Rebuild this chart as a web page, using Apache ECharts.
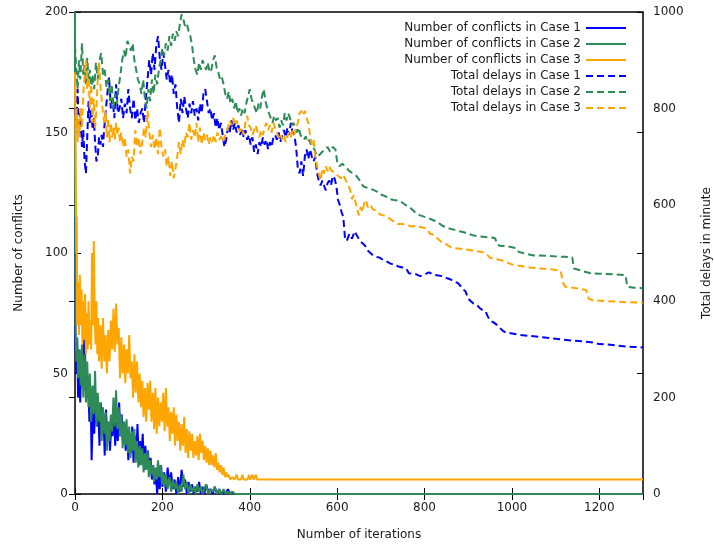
<!DOCTYPE html>
<html>
<head>
<meta charset="utf-8">
<script src="https://cdn.jsdelivr.net/npm/echarts@6/dist/echarts.min.js"></script>
<style>
  html, body { margin: 0; padding: 0; background: #fff; }
  #chart { width: 714px; height: 545px; }
</style>
</head>
<body>
<div id="chart"></div>
<script>
// [iteration, number of conflicts]
const conflictsCase1 = [[0,115],[1,62],[3,50],[5,64],[7,40],[9,52],[12,38],[15,60],[18,45],[21,78],[24,50],[27,40],[30,47],[33,30],[36,38],[38,14],[41,35],[44,25],[47,42],[50,28],[53,37],[56,20],[59,38],[62,25],[65,33],[68,16],[71,35],[74,22],[77,30],[80,18],[83,28],[86,24],[89,36],[92,20],[95,30],[98,22],[101,38],[104,24],[107,33],[110,21],[113,30],[116,18],[119,27],[122,14],[125,25],[128,17],[131,28],[134,13],[137,24],[140,15],[143,29],[146,12],[149,22],[152,16],[155,25],[158,10],[161,20],[164,12],[167,18],[170,8],[173,15],[176,6],[179,12],[182,4],[185,10],[188,0],[191,8],[194,2],[197,12],[200,3],[204,9],[208,1],[212,11],[216,4],[220,9],[224,2],[228,6],[232,0],[236,7],[240,1],[244,10],[248,3],[252,6],[256,0],[260,5],[264,1],[268,4],[272,0],[276,3],[280,1],[284,5],[288,0],[292,3],[296,0],[300,4],[305,1],[310,2],[315,0],[320,3],[325,0],[330,2],[335,0],[340,1],[345,0],[350,2],[355,0],[360,1],[365,0],[1300,0]];
const conflictsCase2 = [[0,200],[1,70],[3,55],[5,65],[7,48],[10,60],[13,45],[16,62],[19,40],[22,58],[25,38],[28,55],[31,36],[34,50],[37,30],[40,45],[43,33],[46,51],[49,28],[52,42],[55,30],[58,38],[61,22],[64,36],[67,25],[70,34],[73,18],[76,30],[79,22],[82,33],[85,26],[88,40],[91,28],[94,43],[97,27],[100,36],[103,24],[106,33],[109,19],[112,30],[115,20],[118,31],[121,17],[124,28],[127,15],[130,26],[133,18],[136,27],[139,13],[142,22],[145,11],[148,20],[151,12],[154,19],[157,9],[160,17],[163,10],[166,18],[169,7],[172,14],[175,8],[178,12],[181,5],[184,11],[187,6],[190,14],[193,7],[196,12],[199,4],[202,9],[205,3],[208,8],[212,2],[216,7],[220,1],[224,6],[228,2],[232,5],[236,0],[240,4],[244,1],[248,8],[252,2],[256,5],[260,0],[264,4],[268,1],[272,3],[276,0],[280,4],[284,1],[288,3],[292,0],[296,2],[300,4],[305,0],[310,2],[315,1],[320,3],[325,0],[330,2],[335,0],[340,2],[345,0],[350,1],[355,0],[360,1],[365,0],[1300,0]];
const conflictsCase3 = [[0,175],[1,150],[2,125],[3,100],[4,115],[5,70],[7,88],[9,66],[11,91],[13,70],[15,85],[17,62],[19,80],[21,64],[23,83],[25,58],[27,75],[29,60],[31,80],[33,62],[35,72],[37,60],[39,100],[41,70],[43,105],[45,75],[47,62],[49,80],[51,58],[53,73],[55,55],[58,70],[61,52],[64,73],[67,55],[70,66],[73,50],[76,68],[79,55],[82,72],[85,60],[88,77],[91,59],[94,79],[97,62],[100,69],[103,48],[106,65],[109,50],[112,62],[115,46],[118,60],[121,50],[124,66],[127,48],[130,55],[133,40],[136,58],[139,42],[142,55],[145,38],[148,50],[151,36],[154,47],[157,32],[160,44],[163,30],[166,46],[169,35],[172,47],[175,30],[178,42],[181,27],[184,44],[187,25],[190,40],[193,28],[196,38],[199,30],[202,42],[205,26],[208,44],[211,28],[214,36],[217,22],[220,34],[223,25],[226,36],[229,20],[232,33],[235,22],[238,30],[241,18],[244,29],[247,20],[250,32],[253,17],[256,27],[259,15],[262,26],[265,18],[268,25],[271,15],[274,22],[277,16],[280,24],[283,14],[286,25],[289,17],[292,22],[295,14],[298,20],[301,13],[304,19],[307,12],[310,18],[313,12],[316,16],[319,11],[322,17],[325,10],[328,13],[331,9],[334,12],[337,8],[340,11],[343,7],[346,9],[349,7],[352,8],[355,6],[360,7],[365,6],[370,8],[373,6],[380,6],[383,8],[386,6],[395,6],[398,8],[401,6],[406,8],[409,6],[414,8],[417,6],[1300,6]];

// [iteration, total delays in minutes]
const delaysCase1 = [[0,800],[3,760],[6,840],[9,745],[12,790],[16,720],[19,755],[22,690],[25,665],[28,740],[31,815],[34,770],[37,800],[40,760],[43,780],[46,730],[49,690],[52,700],[55,740],[58,725],[61,745],[64,720],[67,760],[70,790],[74,830],[78,865],[82,800],[86,820],[90,780],[94,850],[98,790],[102,800],[106,820],[110,780],[114,810],[118,790],[122,840],[126,800],[130,780],[134,820],[138,775],[142,800],[146,770],[150,790],[154,800],[158,770],[162,820],[166,860],[170,900],[174,870],[178,915],[182,880],[186,930],[190,950],[194,905],[198,880],[202,915],[206,890],[210,860],[214,880],[218,850],[222,870],[226,830],[230,850],[234,800],[238,770],[242,820],[246,790],[250,825],[254,800],[258,780],[262,810],[266,790],[270,815],[274,785],[278,800],[282,775],[286,810],[290,790],[294,830],[298,840],[302,815],[306,790],[310,800],[314,775],[318,790],[322,760],[326,780],[330,755],[334,770],[338,745],[342,720],[346,735],[350,760],[354,750],[358,775],[362,755],[366,770],[370,750],[374,765],[378,745],[382,760],[386,740],[390,755],[394,735],[398,745],[402,725],[406,740],[410,710],[414,725],[418,705],[422,730],[426,720],[430,740],[434,725],[438,735],[442,715],[446,730],[450,720],[454,740],[458,745],[462,735],[466,750],[470,730],[474,745],[478,755],[482,740],[486,760],[490,745],[494,770],[498,750],[502,745],[506,720],[510,675],[514,665],[518,690],[522,660],[526,700],[530,715],[534,695],[538,715],[542,700],[546,690],[550,700],[554,665],[558,650],[562,640],[566,650],[570,640],[574,630],[578,645],[582,650],[586,640],[590,660],[594,655],[598,640],[602,610],[606,600],[610,585],[614,575],[618,530],[622,525],[628,540],[634,530],[640,545],[646,535],[652,525],[658,520],[664,515],[670,505],[676,500],[682,495],[690,492],[698,490],[706,485],[714,482],[722,478],[730,476],[740,472],[750,470],[758,468],[764,458],[780,456],[790,452],[800,455],[810,460],[820,455],[840,452],[850,448],[860,445],[868,440],[876,438],[882,432],[888,425],[894,420],[900,405],[906,400],[912,395],[920,392],[926,386],[932,382],[940,378],[945,368],[950,360],[958,356],[964,352],[972,345],[980,338],[986,335],[1000,333],[1020,330],[1040,328],[1060,326],[1080,324],[1100,322],[1120,320],[1140,318],[1160,317],[1180,315],[1192,313],[1200,311],[1220,310],[1240,308],[1260,306],[1280,305],[1300,304]];
const delaysCase2 = [[0,930],[3,880],[6,840],[9,900],[12,860],[16,935],[19,870],[22,890],[25,850],[28,905],[31,860],[34,880],[37,835],[40,870],[44,840],[48,895],[52,860],[56,900],[60,915],[64,870],[68,880],[72,845],[76,860],[80,815],[84,850],[88,800],[92,830],[96,810],[100,845],[104,870],[108,900],[112,920],[116,905],[120,940],[124,930],[128,920],[132,935],[136,900],[140,880],[144,860],[148,850],[152,830],[156,860],[160,820],[164,800],[168,840],[172,815],[176,860],[180,830],[184,870],[188,850],[192,880],[196,900],[200,925],[204,910],[208,935],[212,920],[216,950],[220,930],[224,955],[228,940],[232,960],[236,950],[240,975],[244,995],[248,985],[252,970],[256,975],[260,960],[264,950],[268,930],[272,900],[276,880],[280,870],[284,895],[288,880],[292,900],[296,890],[300,880],[304,895],[308,875],[312,880],[316,900],[320,910],[324,885],[328,875],[332,860],[336,865],[340,850],[344,830],[348,820],[352,835],[356,810],[360,820],[364,800],[368,815],[372,790],[376,800],[380,785],[384,800],[388,790],[392,810],[396,825],[400,840],[404,820],[408,810],[412,800],[416,790],[420,810],[424,800],[428,825],[432,840],[436,815],[440,800],[444,790],[448,780],[452,770],[456,785],[460,775],[464,780],[468,760],[472,775],[476,765],[480,790],[484,775],[488,790],[492,780],[496,765],[500,770],[504,760],[508,750],[512,760],[516,745],[520,740],[524,735],[528,742],[532,730],[536,735],[540,725],[544,720],[548,715],[552,705],[556,700],[560,700],[566,710],[572,715],[578,720],[584,710],[590,720],[596,715],[600,690],[605,680],[612,685],[620,678],[628,670],[636,665],[644,660],[652,650],[660,638],[670,635],[680,632],[690,628],[698,622],[710,618],[720,612],[730,610],[744,608],[756,600],[766,595],[780,583],[790,578],[800,575],[810,572],[820,568],[830,564],[840,557],[850,553],[860,550],[870,548],[880,545],[890,543],[900,540],[910,537],[920,535],[940,533],[955,532],[962,530],[966,518],[972,515],[990,514],[1010,510],[1016,502],[1030,499],[1050,495],[1080,494],[1100,493],[1120,492],[1138,491],[1142,468],[1160,463],[1180,458],[1200,457],[1230,456],[1260,454],[1264,430],[1280,428],[1300,427]];
const delaysCase3 = [[0,845],[2,760],[4,800],[6,730],[8,780],[10,740],[13,800],[16,760],[19,830],[22,870],[25,900],[28,840],[31,865],[34,800],[37,850],[40,770],[43,820],[46,760],[49,800],[52,860],[55,895],[58,850],[61,820],[64,790],[67,770],[70,795],[73,740],[76,780],[79,730],[82,770],[85,740],[88,760],[91,735],[94,770],[97,745],[100,760],[103,730],[106,750],[110,720],[114,740],[118,700],[122,715],[126,665],[130,700],[134,690],[138,755],[142,720],[146,740],[150,705],[154,730],[158,760],[162,740],[166,795],[170,750],[174,720],[178,745],[182,715],[186,740],[190,705],[194,760],[198,720],[202,700],[206,715],[210,680],[214,700],[218,660],[222,690],[226,655],[230,675],[234,700],[238,730],[242,705],[246,735],[250,720],[254,750],[258,740],[262,770],[266,735],[270,755],[274,740],[278,770],[282,730],[286,760],[290,725],[294,750],[298,735],[302,745],[306,725],[310,740],[314,730],[318,745],[322,730],[326,750],[330,735],[334,742],[338,730],[342,740],[346,750],[350,760],[354,775],[358,765],[362,780],[366,765],[370,775],[374,760],[378,752],[382,760],[386,745],[390,770],[394,785],[398,765],[402,760],[406,745],[410,755],[414,765],[418,750],[422,740],[426,755],[430,745],[434,760],[438,770],[442,755],[446,765],[450,750],[454,770],[458,760],[462,750],[466,740],[470,748],[474,735],[478,745],[482,730],[486,742],[490,750],[494,740],[498,755],[502,745],[506,760],[510,770],[514,790],[518,795],[522,785],[526,795],[530,780],[534,770],[538,745],[542,725],[546,735],[550,700],[554,680],[558,665],[562,650],[566,675],[570,665],[574,680],[578,670],[582,680],[586,672],[590,670],[596,665],[602,660],[608,655],[614,662],[620,650],[626,640],[630,630],[634,612],[638,620],[642,605],[646,590],[650,578],[654,595],[658,585],[662,605],[666,610],[670,595],[676,600],[682,590],[690,588],[698,580],[706,578],[714,575],[722,570],[730,565],[740,560],[750,560],[760,558],[770,555],[780,556],[790,554],[800,552],[806,550],[812,540],[820,538],[830,530],[840,522],[850,518],[860,512],[870,510],[890,508],[910,505],[930,502],[940,500],[950,490],[960,488],[975,485],[990,480],[1000,476],[1020,473],[1040,470],[1060,468],[1080,467],[1100,465],[1112,462],[1116,440],[1122,430],[1140,428],[1160,425],[1170,423],[1176,405],[1185,402],[1220,400],[1260,398],[1300,397]];

const seriesNames = [
  "Number of conflicts in Case 1",
  "Number of conflicts in Case 2",
  "Number of conflicts in Case 3",
  "Total delays in Case 1",
  "Total delays in Case 2",
  "Total delays in Case 3"
];
const colors = ["#0000ff", "#2e8b57", "#ffa500"];

var myChart = echarts.init(document.getElementById("chart"));
var font = "DejaVu Sans";
var textColor = "#1a1a1a";
var plain = function (v) { return String(v); };

function mkSeries(name, data, color, yIdx, dashed) {
  return {
    name: name,
    type: "line",
    data: data,
    yAxisIndex: yIdx,
    showSymbol: false,
    symbol: "none",
    lineStyle: { color: color, width: 2, type: dashed ? [7, 4] : "solid" },
    itemStyle: { color: color },
    z: dashed ? 3 : 2
  };
}

var option = {
  animation: false,
  color: colors,
  grid: {
    left: 75, right: 71, top: 12, bottom: 51,
    outerBoundsMode: "none",
    containLabel: false,
    show: true, borderColor: "#000", borderWidth: 1.5
  },
  legend: {
    orient: "vertical",
    right: 82,
    top: 17,
    align: "right",
    itemGap: 4,
    itemWidth: 40,
    itemHeight: 12,
    itemStyle: { opacity: 0 },
    textStyle: { fontFamily: font, fontSize: 12, color: textColor },
    data: seriesNames
  },
  xAxis: [
    {
      type: "value", min: 0, max: 1300, interval: 200,
      name: "Number of iterations", nameLocation: "middle", nameGap: 35,
      nameTextStyle: { fontFamily: font, fontSize: 12, color: textColor },
      axisLine: { show: false },
      axisTick: { inside: true, length: 6, lineStyle: { color: "#000" } },
      axisLabel: { fontFamily: font, fontSize: 12, color: textColor, margin: 8, showMaxLabel: false, formatter: plain },
      splitLine: { show: false }
    },
    {
      type: "value", min: 0, max: 1300, interval: 200, position: "top",
      axisLine: { show: false },
      axisTick: { inside: true, length: 6, lineStyle: { color: "#000" } },
      axisLabel: { show: false },
      splitLine: { show: false }
    }
  ],
  yAxis: [
    {
      type: "value", min: 0, max: 200, interval: 50,
      name: "Number of conflicts", nameLocation: "middle", nameGap: 50, nameRotate: 90,
      nameTextStyle: { fontFamily: font, fontSize: 12, color: textColor },
      axisLine: { show: false },
      axisTick: { show: true, inside: true, length: 6, lineStyle: { color: "#000" } },
      axisLabel: { fontFamily: font, fontSize: 12, color: textColor, margin: 7, formatter: plain },
      splitLine: { show: false }
    },
    {
      type: "value", min: 0, max: 1000, interval: 200, position: "right",
      name: "Total delays in minute", nameLocation: "middle", nameGap: 58, nameRotate: 90,
      nameTextStyle: { fontFamily: font, fontSize: 12, color: textColor },
      axisLine: { show: false },
      axisTick: { show: true, inside: true, length: 6, lineStyle: { color: "#000" } },
      axisLabel: { fontFamily: font, fontSize: 12, color: textColor, margin: 10, formatter: plain },
      splitLine: { show: false }
    },
    {
      // mirrored ticks of the left axis
      type: "value", min: 0, max: 200, interval: 50, position: "right",
      axisLine: { show: false },
      axisTick: { show: true, inside: true, length: 6, lineStyle: { color: "#000" } },
      axisLabel: { show: false },
      splitLine: { show: false }
    }
  ],
  series: [
    mkSeries(seriesNames[0], conflictsCase1, colors[0], 0, false),
    mkSeries(seriesNames[1], conflictsCase2, colors[1], 0, false),
    mkSeries(seriesNames[2], conflictsCase3, colors[2], 0, false),
    mkSeries(seriesNames[3], delaysCase1, colors[0], 1, true),
    mkSeries(seriesNames[4], delaysCase2, colors[1], 1, true),
    mkSeries(seriesNames[5], delaysCase3, colors[2], 1, true)
  ]
};

option && myChart.setOption(option);
</script>
</body>
</html>
